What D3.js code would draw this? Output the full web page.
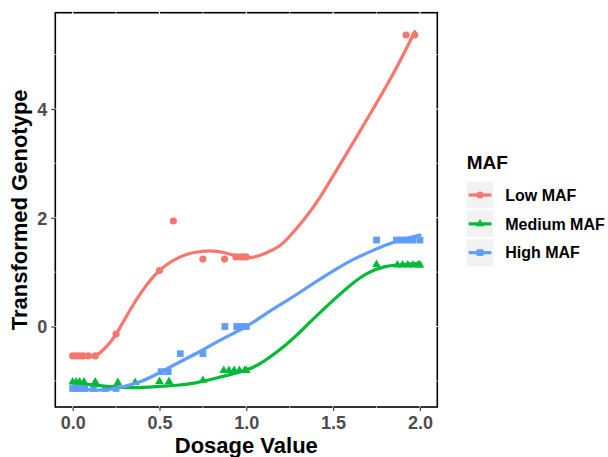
<!DOCTYPE html>
<html>
<head>
<meta charset="utf-8">
<script src="https://cdn.jsdelivr.net/npm/d3@7"></script>
<style>
  body { margin: 0; background: #fff; }
  text { font-family: "Liberation Sans", Arial, sans-serif; font-weight: bold; }
</style>
</head>
<body>
<svg width="608" height="457"></svg>
<script>
// Data =======================================================================

const groups = ["Low MAF", "Medium MAF", "High MAF"];
const colors = ["#F8766D", "#00BA38", "#619CFF"];

const lowX = [0, 0.02, 0.04, 0.06, 0.09, 0.13, 0.25, 0.5, 0.58, 0.75, 0.875, 0.94, 0.965, 0.985, 1.0, 1.92, 1.97];
const lowY = [-0.54, -0.54, -0.54, -0.54, -0.54, -0.54, -0.14, 1.03, 1.94, 1.24, 1.24, 1.28, 1.28, 1.28, 1.28, 5.36, 5.36];

const medX = [0, 0.02, 0.04, 0.065, 0.13, 0.26, 0.36, 0.5, 0.555, 0.75, 0.87, 0.9, 0.93, 0.96, 0.99, 1.0, 1.75, 1.87, 1.9, 1.93, 1.96, 1.99, 2.0];
const medY = [-1.02, -1.02, -1.02, -1.02, -1.02, -1.03, -1.03, -1.01, -1.01, -0.99, -0.81, -0.81, -0.81, -0.81, -0.81, -0.81, 1.14, 1.13, 1.13, 1.13, 1.13, 1.13, 1.13];

const highX = [0, 0.02, 0.04, 0.07, 0.12, 0.19, 0.25, 0.51, 0.55, 0.62, 0.75, 0.877, 0.945, 0.975, 1.0, 1.75, 1.865, 1.9, 1.93, 1.96, 2.0];
const highY = [-1.14, -1.14, -1.14, -1.14, -1.14, -1.14, -1.14, -0.83, -0.83, -0.5, -0.5, 0.0, 0.0, 0.0, 0.0, 1.59, 1.59, 1.59, 1.59, 1.59, 1.59];

// smoothed fits
const lowFitX = [0, 0.07, 0.14, 0.2, 0.25, 0.33, 0.4, 0.5, 0.62, 0.7, 0.79, 0.87, 0.93, 1.0, 1.06, 1.12, 1.19, 1.25, 1.33, 1.425, 1.54, 1.63, 1.73, 1.85, 1.97];
const lowFitY = [-0.55, -0.55, -0.52, -0.35, -0.14, 0.3, 0.65, 1.03, 1.28, 1.36, 1.39, 1.36, 1.31, 1.27, 1.29, 1.36, 1.48, 1.66, 1.96, 2.38, 2.98, 3.46, 4.0, 4.67, 5.42];

const medFitX = [0, 0.1, 0.2, 0.35, 0.5, 0.6, 0.7, 0.8, 0.9, 1.0, 1.1, 1.23, 1.31, 1.4, 1.5, 1.6, 1.7, 1.8, 1.9, 2.0];
const medFitY = [-1.03, -1.07, -1.1, -1.125, -1.1, -1.08, -1.04, -0.97, -0.89, -0.8, -0.64, -0.33, -0.1, 0.18, 0.48, 0.76, 0.98, 1.1, 1.14, 1.16];

const highFitX = [0, 0.08, 0.15, 0.22, 0.3, 0.4, 0.5, 0.6, 0.733, 0.85, 1.0, 1.12, 1.24, 1.31, 1.4, 1.52, 1.62, 1.73, 1.85, 2.0];
const highFitY = [-1.14, -1.16, -1.17, -1.15, -1.1, -1.0, -0.85, -0.68, -0.46, -0.25, 0.0, 0.25, 0.49, 0.63, 0.82, 1.06, 1.24, 1.4, 1.55, 1.68];

const xTicks = [0, 0.5, 1, 1.5, 2];
const xMinor = [0.25, 0.75, 1.25, 1.75];
const yTicks = [0, 2, 4];
const yMinor = [-1, 1, 3, 5];

// Layout =====================================================================

const svg = d3.select("svg");
const panel = { left: 55.3, right: 437.3, top: 12.7, bottom: 407 };

const x = d3.scaleLinear().domain([-0.1, 2.1]).range([panel.left, panel.right]);
const y = d3.scaleLinear().domain([-1.48, 5.77]).range([panel.bottom, panel.top]);

const series = [
  { pts: d3.zip(lowX, lowY), fit: d3.zip(lowFitX, lowFitY), shape: d3.symbolCircle, size: 40 },
  { pts: d3.zip(medX, medY), fit: d3.zip(medFitX, medFitY), shape: d3.symbolTriangle, size: 32 },
  { pts: d3.zip(highX, highY), fit: d3.zip(highFitX, highFitY), shape: d3.symbolSquare, size: 46 }
];

// Panel border, then white grid over it
svg.append("rect")
  .attr("x", panel.left).attr("y", panel.top)
  .attr("width", panel.right - panel.left)
  .attr("height", panel.bottom - panel.top)
  .attr("fill", "#fff").attr("stroke", "#000").attr("stroke-width", 1.6);

const grid = svg.append("g").attr("stroke", "#fff");
xTicks.concat(xMinor).forEach((v, i) => {
  grid.append("line")
    .attr("x1", x(v)).attr("x2", x(v))
    .attr("y1", panel.top - 1.5).attr("y2", panel.bottom + 1.5)
    .attr("stroke-width", i < xTicks.length ? 1.1 : 0.6);
});
yTicks.concat(yMinor).forEach((v, i) => {
  grid.append("line")
    .attr("y1", y(v)).attr("y2", y(v))
    .attr("x1", panel.left - 1.5).attr("x2", panel.right + 1.5)
    .attr("stroke-width", i < yTicks.length ? 1.1 : 0.6);
});

// Axes =======================================================================

const xAxis = svg.append("g")
  .attr("transform", `translate(0,${panel.bottom})`)
  .call(d3.axisBottom(x).tickValues(xTicks).tickFormat(d3.format(".1f")).tickSize(4).tickPadding(4));
const yAxis = svg.append("g")
  .attr("transform", `translate(${panel.left},0)`)
  .call(d3.axisLeft(y).tickValues(yTicks).tickSize(4).tickPadding(4));

[xAxis, yAxis].forEach(a => {
  a.select(".domain").remove();
  a.selectAll(".tick line").attr("stroke", "#333").attr("stroke-width", 1.1);
  a.selectAll(".tick text").attr("fill", "#4D4D4D").style("font-size", "18px");
});
xAxis.selectAll(".tick text").attr("dy", "0.75em");
yAxis.selectAll(".tick text").attr("dy", "0.36em");

svg.append("text")
  .attr("x", (panel.left + panel.right) / 2).attr("y", 453)
  .attr("text-anchor", "middle").style("font-size", "22px")
  .text("Dosage Value");

svg.append("text")
  .attr("transform", `translate(27,${(panel.top + panel.bottom) / 2}) rotate(-90)`)
  .attr("text-anchor", "middle").style("font-size", "22px")
  .text("Transformed Genotype");

// Marks ======================================================================

const line = d3.line().x(d => x(d[0])).y(d => y(d[1])).curve(d3.curveNatural);

series.forEach((s, i) => {
  svg.append("g").selectAll("path")
    .data(s.pts)
    .enter()
    .append("path")
    .attr("d", d3.symbol().type(s.shape).size(s.size))
    .attr("transform", d => `translate(${x(d[0])},${y(d[1])})`)
    .attr("fill", colors[i]);
});

series.forEach((s, i) => {
  svg.append("path")
    .datum(s.fit)
    .attr("d", line)
    .attr("fill", "none")
    .attr("stroke", colors[i])
    .attr("stroke-width", 3.2)
    .attr("stroke-linecap", "round");
});

// Legend =====================================================================

const legend = svg.append("g").attr("transform", "translate(466.7,0)");
legend.append("text")
  .attr("x", 0).attr("y", 169)
  .style("font-size", "19px")
  .text("MAF");

groups.forEach((g, i) => {
  const top = 181.7 + i * 28.8;
  const row = legend.append("g").attr("transform", `translate(0,${top})`);
  row.append("rect")
    .attr("width", 26.7).attr("height", 26.7)
    .attr("fill", "#F2F2F2");
  row.append("line")
    .attr("x1", 2).attr("x2", 24.7)
    .attr("y1", 13.35).attr("y2", 13.35)
    .attr("stroke", colors[i]).attr("stroke-width", 3.2);
  row.append("path")
    .attr("d", d3.symbol().type(series[i].shape).size(series[i].size))
    .attr("transform", "translate(13.35,13.35)")
    .attr("fill", colors[i]);
  row.append("text")
    .attr("x", 38.5).attr("y", 13.35)
    .attr("dy", "0.36em")
    .style("font-size", "16px")
    .text(g);
});
</script>
</body>
</html>
